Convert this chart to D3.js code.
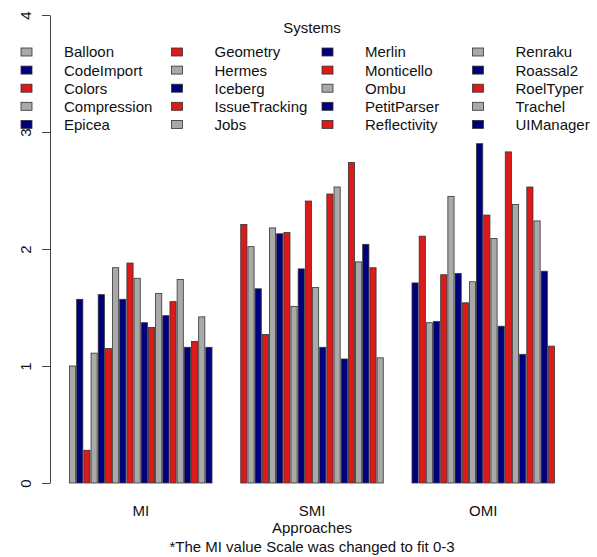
<!DOCTYPE html>
<html>
<head>
<meta charset="utf-8">
<script src="https://cdn.jsdelivr.net/npm/d3@7"></script>
<style>
  body { margin: 0; background: #fff; }
  text { font-family: "Liberation Sans", Arial, sans-serif; fill: #111; }
</style>
</head>
<body>
<svg id="chart"></svg>
<script>
// data
const approaches = ["MI", "SMI", "OMI"];
const systems = ["Balloon", "CodeImport", "Colors", "Compression", "Epicea",
  "Geometry", "Hermes", "Iceberg", "IssueTracking", "Jobs",
  "Merlin", "Monticello", "Ombu", "PetitParser", "Reflectivity",
  "Renraku", "Roassal2", "RoelTyper", "Trachel", "UIManager"];
const miValues = [1.00, 1.57, 0.28, 1.11, 1.61, 1.15, 1.84, 1.57, 1.88, 1.75,
  1.37, 1.33, 1.62, 1.43, 1.55, 1.74, 1.16, 1.21, 1.42, 1.16];
const smiValues = [2.21, 2.02, 1.66, 1.27, 2.18, 2.13, 2.14, 1.51, 1.83, 2.41,
  1.67, 1.16, 2.47, 2.53, 1.06, 2.74, 1.89, 2.04, 1.84, 1.07];
const omiValues = [1.71, 2.11, 1.37, 1.38, 1.78, 2.45, 1.79, 1.54, 1.72, 2.90,
  2.29, 2.09, 1.34, 2.83, 2.38, 1.10, 2.53, 2.24, 1.81, 1.17];
const yTicks = [0, 1, 2, 3, 4];
// R recycles the colours over all 60 bars
const palette = ["#a9a9a9", "#00007e", "#dd1a1a"];

const values = [miValues, smiValues, omiValues];

const width = 597, height = 557;
const margin = {top: 15, bottom: 74, left: 69, right: 42};

const svg = d3.select("#chart")
  .attr("width", width)
  .attr("height", height);

// scales
const x0 = d3.scaleBand()
  .domain(approaches)
  .range([margin.left, width - margin.right])
  .paddingInner(0.162)
  .paddingOuter(0);

const x1 = d3.scaleBand()
  .domain(d3.range(systems.length))
  .range([0, x0.bandwidth()]);

const y = d3.scaleLinear()
  .domain([0, 4])
  .range([height - margin.bottom, margin.top]);

// bars
const bars = [];
approaches.forEach((a, gi) => {
  values[gi].forEach((v, i) => {
    bars.push({group: a, idx: i, value: v, color: palette[(gi * systems.length + i) % 3]});
  });
});

svg.append("g").selectAll("rect")
  .data(bars)
  .enter().append("rect")
  .attr("x", d => x0(d.group) + x1(d.idx) + 0.5)
  .attr("y", d => y(d.value))
  .attr("width", x1.bandwidth() - 1)
  .attr("height", d => y(0) - y(d.value))
  .attr("fill", d => d.color)
  .attr("stroke", "#333")
  .attr("stroke-width", 0.8);

// y axis
const yAxis = svg.append("g")
  .attr("transform", `translate(50,0)`)
  .call(d3.axisLeft(y).tickValues(yTicks).tickSize(8).tickSizeOuter(0).tickFormat(d3.format("d")));
yAxis.select(".domain").attr("stroke", "#444");
yAxis.selectAll(".tick line").attr("stroke", "#444");
yAxis.selectAll(".tick text")
  .attr("font-size", 15)
  .attr("text-anchor", "middle")
  .attr("dy", null)
  .attr("x", null)
  .attr("transform", "translate(-23,0) rotate(-90)")
  .attr("dominant-baseline", "middle")
  .style("font-family", "'Liberation Sans', Arial, sans-serif")
  .attr("fill", "#111");

// x labels
svg.append("g").selectAll("text")
  .data(approaches)
  .enter().append("text")
  .attr("x", d => x0(d) + x0.bandwidth() / 2)
  .attr("y", 516)
  .attr("text-anchor", "middle")
  .attr("font-size", 15)
  .text(d => d);

svg.append("text")
  .attr("x", 312)
  .attr("y", 533)
  .attr("text-anchor", "middle")
  .attr("font-size", 15)
  .text("Approaches");

svg.append("text")
  .attr("x", 312)
  .attr("y", 552)
  .attr("text-anchor", "middle")
  .attr("font-size", 15)
  .text("*The MI value Scale was changed to fit 0-3");

// legend
const legend = svg.append("g");
legend.append("text")
  .attr("x", 312)
  .attr("y", 33)
  .attr("text-anchor", "middle")
  .attr("font-size", 15)
  .text("Systems");

const legendItems = legend.selectAll("g.item")
  .data(systems)
  .enter().append("g")
  .attr("class", "item")
  .attr("transform", (d, i) => `translate(${21 + Math.floor(i / 5) * 150.5},${52 + (i % 5) * 18.1})`);

legendItems.append("rect")
  .attr("x", 0)
  .attr("y", -4)
  .attr("width", 11)
  .attr("height", 8)
  .attr("fill", (d, i) => palette[i % 3])
  .attr("stroke", "#333")
  .attr("stroke-width", 0.8);

legendItems.append("text")
  .attr("x", 43)
  .attr("y", 0)
  .attr("dy", "0.36em")
  .attr("font-size", 15)
  .text(d => d);
</script>
</body>
</html>
